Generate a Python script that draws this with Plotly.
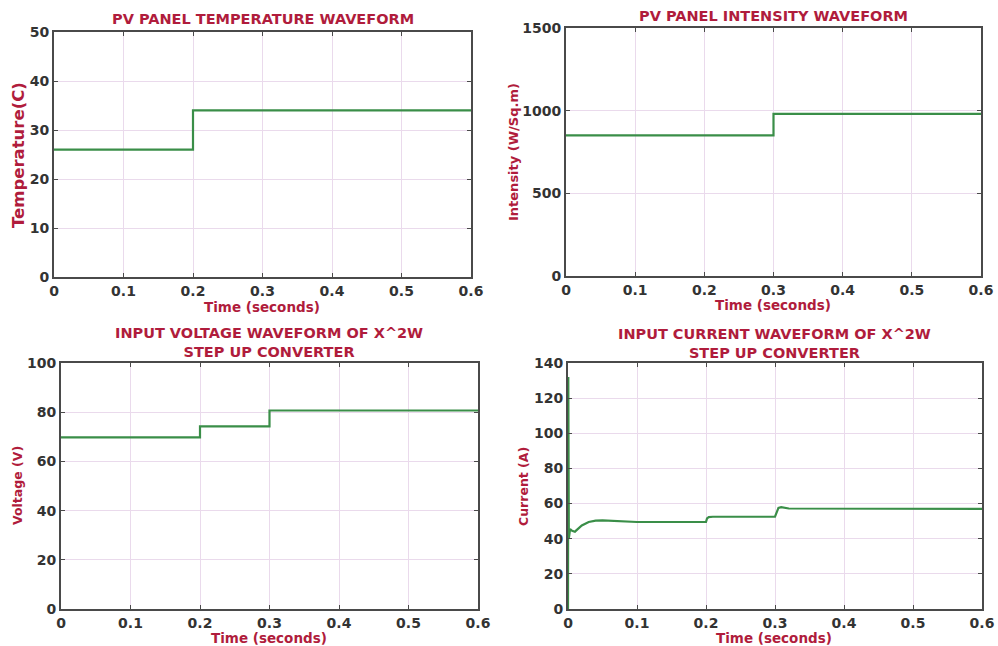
import plotly.graph_objects as go

# ---------------- data ----------------
temp_t = [0.0, 0.2, 0.6]
temp_v = [26, 34, 34]

int_t = [0.0, 0.3, 0.6]
int_v = [850, 980, 980]

volt_t = [0.0, 0.2, 0.3, 0.6]
volt_v = [69.8, 74.2, 80.7, 80.7]

cur_t = [0.0, 0.0004, 0.0012, 0.003, 0.006, 0.01, 0.015, 0.02, 0.03, 0.04, 0.05,
         0.07, 0.09, 0.1, 0.2, 0.2015, 0.204, 0.21, 0.3, 0.302, 0.305, 0.309,
         0.315, 0.32, 0.6]
cur_v = [0.0, 132, 40, 45.5, 44.5, 44, 46, 47.5, 49.5, 50.3, 50.4,
         50.2, 49.7, 49.5, 49.5, 51.5, 52.3, 52.5, 52.5, 55, 57.5, 58,
         57.5, 57.2, 57.0]

x_ticks = [0, 0.1, 0.2, 0.3, 0.4, 0.5, 0.6]
x_ticklabels = ["0", "0.1", "0.2", "0.3", "0.4", "0.5", "0.6"]

titles = ["PV PANEL TEMPERATURE WAVEFORM", "PV PANEL INTENSITY WAVEFORM",
          "INPUT VOLTAGE WAVEFORM OF X^2W<br>STEP UP CONVERTER",
          "INPUT CURRENT WAVEFORM OF X^2W<br>STEP UP CONVERTER"]
y_titles = ["Temperature(C)", "Intensity (W/Sq.m)", "Voltage (V)", "Current (A)"]
x_title = "Time (seconds)"
y_ranges = [[0, 50], [0, 1500], [0, 100], [0, 140]]
y_dticks = [10, 500, 20, 20]

# ---------------- style ----------------
W, H = 998, 646
GREEN = "#3A8E48"
RED = "#B01C3C"
GRID = "#EADAEC"
AXC = "#4a4a4a"
FONT = "DejaVu Sans"

# plot-area pixel boxes (x0, x1, ytop, ybottom)
boxes = [(54, 471, 32, 277), (566, 981, 28, 276), (61, 478, 363, 609), (568, 982, 363, 609)]

fig = go.Figure()
series = [(temp_t, temp_v, "hv"), (int_t, int_v, "hv"), (volt_t, volt_v, "hv"), (cur_t, cur_v, "linear")]

for i, (t, v, shape) in enumerate(series):
    n = "" if i == 0 else str(i + 1)
    fig.add_trace(go.Scatter(x=t, y=v, mode="lines", line=dict(color=GREEN, width=2.2, shape=shape),
                             xaxis="x" + n, yaxis="y" + n, showlegend=False, hoverinfo="skip"))
    x0, x1, yt, yb = boxes[i]
    common = dict(showline=True, linecolor=AXC, linewidth=2, mirror="allticks", ticks="inside",
                  ticklen=4, tickcolor=AXC, showgrid=True, gridcolor=GRID, gridwidth=1, zeroline=False,
                  automargin=False,
                  tickfont=dict(family=FONT, size=14, color="#333333", weight="bold"))
    fig.layout["xaxis" + n] = dict(domain=[x0 / W, x1 / W], range=[0, 0.6], tickvals=x_ticks,
                                   ticktext=x_ticklabels, anchor="y" + n, **common)
    fig.layout["yaxis" + n] = dict(domain=[1 - yb / H, 1 - yt / H], range=y_ranges[i], dtick=y_dticks[i],
                                   anchor="x" + n, **common)

# titles
title_pos = [(263, 19), (773, 16), (269, 342), (774, 343)]
for i, (cx, cy) in enumerate(title_pos):
    fig.add_annotation(text="<b>" + titles[i] + "</b>", x=cx / W, y=1 - cy / H, xref="paper", yref="paper",
                       showarrow=False, xanchor="center", yanchor="middle",
                       font=dict(family=FONT, size=14.5, color=RED), align="center")

# x titles
xt_pos = [(262, 307), (773, 305), (269, 638), (774, 638)]
for cx, cy in xt_pos:
    fig.add_annotation(text="<b>" + x_title + "</b>", x=cx / W, y=1 - cy / H, xref="paper", yref="paper",
                       showarrow=False, xanchor="center", yanchor="middle",
                       font=dict(family=FONT, size=13.5, color=RED))

# y titles
yt_pos = [(18, 155, 16.5), (513, 152, 13), (17, 486, 12.5), (523, 487, 12.5)]
for i, (cx, cy, fs) in enumerate(yt_pos):
    fig.add_annotation(text="<b>" + y_titles[i] + "</b>", x=cx / W, y=1 - cy / H, xref="paper", yref="paper",
                       showarrow=False, xanchor="center", yanchor="middle", textangle=-90,
                       font=dict(family=FONT, size=fs, color=RED))

fig.update_layout(width=W, height=H, margin=dict(l=0, r=0, t=0, b=0),
                  paper_bgcolor="white", plot_bgcolor="white")

fig.write_html("out.html", config={"displayModeBar": False},
               post_script="document.body.style.margin='0px';document.body.style.overflow='hidden';")
